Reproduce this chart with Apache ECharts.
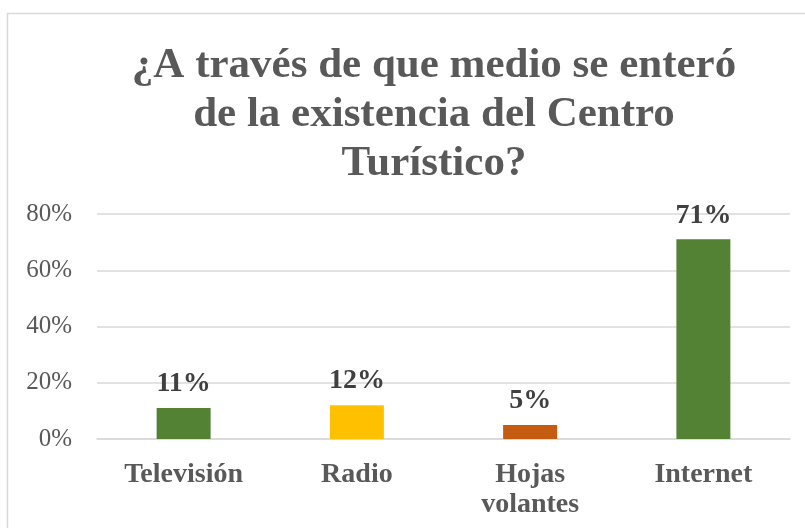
<!DOCTYPE html>
<html><head><meta charset="utf-8">
<script src="https://cdn.jsdelivr.net/npm/echarts@6/dist/echarts.min.js"></script>
<style>html,body{margin:0;padding:0;background:#fff}#c{width:805px;height:528px}</style>
</head><body><div id="c"></div>
<script>
const titleText = "¿A través de que medio se enteró\nde la existencia del Centro\nTurístico?";
const categories = ["Televisión", "Radio", "Hojas\nvolantes", "Internet"];
const values = [0.11, 0.12, 0.05, 0.71];
const labels = ["11%", "12%", "5%", "71%"];
const barColors = ["#548235", "#FFC000", "#C55A11", "#548235"];
const yTicks = [0, 0.2, 0.4, 0.6, 0.8];

const serif = "'Liberation Serif', 'Times New Roman', serif";
const chart = echarts.init(document.getElementById('c'));
chart.setOption({
  animation: false,
  backgroundColor: '#fff',
  title: {
    text: titleText,
    left: 429,
    textAlign: 'center',
    top: 36,
    textStyle: { fontFamily: serif, fontWeight: 'bold', fontSize: 43, lineHeight: 49, color: '#595959' }
  },
  graphic: [{
    type: 'rect', silent: true,
    shape: { x: 7.5, y: 13.5, width: 900, height: 700 },
    style: { fill: 'none', stroke: '#d9d9d9', lineWidth: 1.5 }
  }],
  grid: { left: 97, right: 15, top: 214, bottom: 89 },
  xAxis: {
    type: 'category',
    data: categories,
    axisLine: { show: true, lineStyle: { color: '#d9d9d9', width: 1.5 } },
    axisTick: { show: false },
    axisLabel: { interval: 0, margin: 21, fontFamily: serif, fontWeight: 'bold', fontSize: 28, lineHeight: 30, color: '#595959' }
  },
  yAxis: {
    type: 'value',
    min: yTicks[0], max: yTicks[yTicks.length - 1], interval: 0.2,
    axisLine: { show: false },
    axisTick: { show: false },
    splitLine: { lineStyle: { color: '#d9d9d9', width: 1.5 } },
    axisLabel: {
      margin: 25, fontFamily: serif, fontSize: 25, color: '#595959',
      formatter: v => Math.round(v * 100) + '%'
    }
  },
  series: [{
    type: 'bar',
    barWidth: 54,
    data: values.map((v, i) => ({ value: v, itemStyle: { color: barColors[i] } })),
    label: {
      show: true, position: 'top', distance: 10,
      fontFamily: serif, fontWeight: 'bold', fontSize: 28, color: '#404040',
      formatter: p => labels[p.dataIndex]
    }
  }]
});
</script></body></html>
